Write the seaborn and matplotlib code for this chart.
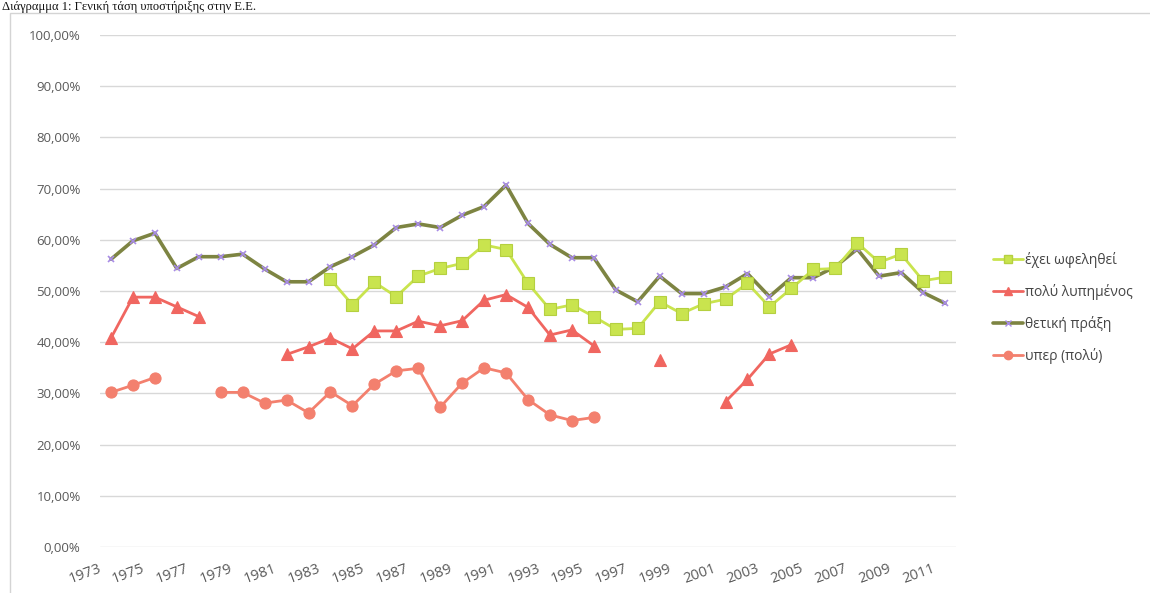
import numpy as np
import pandas as pd
import matplotlib
matplotlib.use("Agg")
import matplotlib.pyplot as plt
from matplotlib.lines import Line2D
from matplotlib.patches import Rectangle
import matplotlib.transforms as mtransforms
import seaborn as sns

nan = np.nan
years = list(range(1973, 2012))

benefited = [nan, nan, nan, nan, nan, nan, nan, nan, nan, nan,
             52.3, 47.3, 51.7, 48.9, 52.9, 54.4, 55.4, 59.0, 58.1, 51.5,
             46.4, 47.3, 45.0, 42.5, 42.7, 47.9, 45.6, 47.5, 48.4, 51.5,
             46.9, 50.5, 54.2, 54.4, 59.4, 55.6, 57.2, 52.0, 52.7]
very_sorry = [40.8, 48.8, 48.8, 46.9, 45.0, nan, nan, nan, 37.6, 39.1,
              40.8, 38.7, 42.2, 42.2, 44.1, 43.2, 44.2, 48.2, 49.3, 46.8,
              41.4, 42.4, 39.3, nan, nan, 36.5, nan, nan, 28.4, 32.75,
              37.7, 39.5, nan, nan, nan, nan, nan, nan, nan]
positive = [56.2, 59.8, 61.3, 54.4, 56.7, 56.7, 57.2, 54.3, 51.8, 51.8,
            54.75, 56.7, 59.0, 62.4, 63.1, 62.4, 64.8, 66.5, 70.7, 63.2,
            59.1, 56.5, 56.5, 50.2, 47.9, 52.9, 49.5, 49.5, 50.8, 53.4,
            48.9, 52.6, 52.6, 54.75, 58.2, 52.9, 53.6, 49.7, 47.6]
pro_very = [30.2, 31.6, 33.1, nan, nan, 30.2, 30.2, 28.1, 28.7, 26.2,
            30.3, 27.6, 31.8, 34.4, 34.9, 27.3, 32.0, 35.0, 34.0, 28.8,
            25.8, 24.7, 25.3, nan, nan, nan, nan, nan, nan, nan,
            nan, nan, nan, nan, nan, nan, nan, nan, nan]

labels = ["έχει ωφεληθεί", "πολύ λυπημένος", "θετική πράξη", "υπερ (πολύ)"]
series = [benefited, very_sorry, positive, pro_very]
xtick_labels = [str(y) for y in range(1973, 2012, 2)]
ytick_values = list(range(0, 101, 10))
title = "Διάγραμμα 1: Γενική τάση υποστήριξης στην Ε.Ε."

styles = [
    dict(color="#c9e44e", marker="s", ms=8.2, mfc="#c9e44e", mec="#b5d040", lw=2.0, zorder=4),
    dict(color="#f06660", marker="^", ms=8, mfc="#f06660", mec="#f06660", lw=2.0, zorder=3),
    dict(color="#7d8442", marker="x", ms=5, mfc="#a88ce6", mec="#a88ce6", lw=2.6, zorder=2),
    dict(color="#f3806e", marker="o", ms=8, mfc="#f3806e", mec="#f3806e", lw=2.0, zorder=3),
]

sns.set_theme(style="white")
plt.rcParams["font.family"] = ["Open Sans", "DejaVu Sans"]

W, H = 1150, 593
fig = plt.figure(figsize=(W / 100, H / 100), dpi=100)
ax = fig.add_axes([100 / W, 1 - 547 / H, (956 - 100) / W, (547 - 35) / H])

for lab, vals, st in zip(labels, series, styles):
    df = pd.DataFrame({"year": years, "value": vals})
    df["seg"] = df["value"].isna().cumsum()
    df = df.dropna()
    for _, g in df.groupby("seg"):
        sns.lineplot(data=g, x="year", y="value", ax=ax, color=st["color"],
                     linewidth=st["lw"], marker=st["marker"], markersize=st["ms"],
                     markerfacecolor=st["mfc"], markeredgecolor=st["mec"],
                     markeredgewidth=1.2 if st["marker"] == "x" else 0.8,
                     estimator=None, sort=True, legend=False, zorder=st["zorder"])

ax.set_xlim(1972.5, 2011.5)
ax.set_ylim(0, 100)
ax.set_yticks(ytick_values)
ax.set_yticklabels([f"{v:.2f}%".replace(".", ",") for v in ytick_values],
                   color="#5a5a5a", fontsize=9.5)
ax.set_xticks(list(range(1973, 2012, 2)))
ax.set_xticklabels(xtick_labels, rotation=20, ha="right", va="top",
                   rotation_mode="anchor", color="#5a5a5a", fontsize=10.5)
ax.tick_params(axis="both", length=0)
ax.tick_params(axis="y", pad=14)
ax.tick_params(axis="x", pad=6)
offset = mtransforms.ScaledTranslation(-13 / 100, -6 / 100, fig.dpi_scale_trans)
for t in ax.get_xticklabels():
    t.set_transform(t.get_transform() + offset)
ax.set_xlabel("")
ax.set_ylabel("")
for s in ax.spines.values():
    s.set_visible(False)
ax.yaxis.grid(True, color="#d8d8d8", linewidth=1)
ax.xaxis.grid(False)
ax.set_axisbelow(True)

handles = []
for lab, st in zip(labels, styles):
    handles.append(Line2D([0], [0], color=st["color"], lw=st["lw"], marker=st["marker"],
                          ms=st["ms"] * 0.75, mfc=st["mfc"], mec=st["mec"]))
leg = fig.legend(handles, labels, loc="upper left",
                 bbox_to_anchor=(987 / W, 1 - 246 / H), frameon=False,
                 fontsize=10, handlelength=2.2, handletextpad=0.15,
                 labelspacing=1.17, borderaxespad=0)
for t in leg.get_texts():
    t.set_color("#454545")

# outer chart frame
fig.patches.append(Rectangle((10 / W, -0.1), 1.2, 1 - 13 / H + 0.1,
                             transform=fig.transFigure, fill=False,
                             ec="#d4d4d4", lw=1))

fig.text(2 / W, 1 - 1 / H, title, family=["Liberation Serif", "DejaVu Serif"],
         fontsize=9, color="#111111", ha="left", va="top")

fig.savefig("out.png", dpi=100)
